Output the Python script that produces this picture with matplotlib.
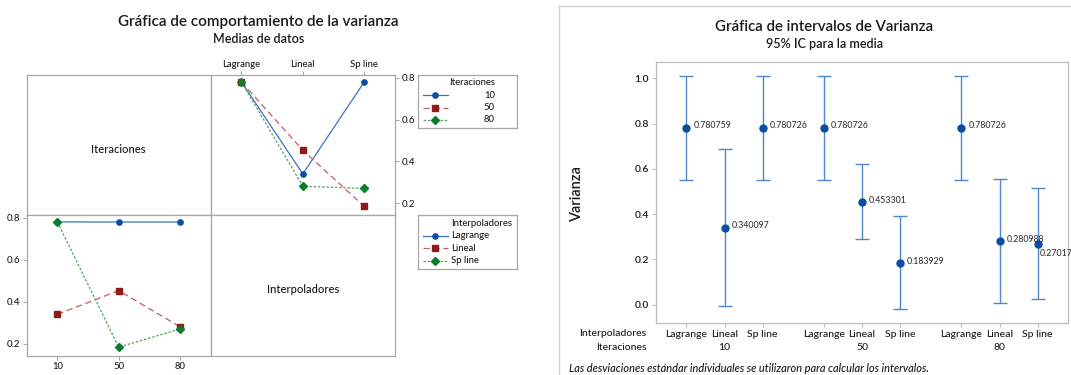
import matplotlib
matplotlib.use("Agg")
import matplotlib.pyplot as plt
import matplotlib.transforms as mtransforms
from matplotlib.lines import Line2D

W, H = 1071, 375
plt.rcParams['font.family'] = ['Lato', 'DejaVu Sans']
plt.rcParams['font.weight'] = 'medium'
TXT = '#1A1A1A'
GRID = '#A8A8A8'

# ---- data -------------------------------------------------------------
interpoladores = ["Lagrange", "Lineal", "Sp line"]
iteraciones = ["10", "50", "80"]

# mean variance per interpolator, one list per iteration count
media_10 = [0.780759, 0.340097, 0.780726]
media_50 = [0.780726, 0.453301, 0.183929]
media_80 = [0.780726, 0.280988, 0.270176]

# 95% confidence interval bounds for the mean
ic_inf_10 = [0.549, -0.004, 0.549]
ic_sup_10 = [1.011, 0.686, 1.011]
ic_inf_50 = [0.549, 0.289, -0.020]
ic_sup_50 = [1.011, 0.620, 0.392]
ic_inf_80 = [0.549, 0.0075, 0.025]
ic_sup_80 = [1.011, 0.555, 0.517]

medias = [media_10, media_50, media_80]
ic_inf = [ic_inf_10, ic_inf_50, ic_inf_80]
ic_sup = [ic_sup_10, ic_sup_50, ic_sup_80]

# ---- styles -----------------------------------------------------------
estilos = [
    dict(lc='#3C74C0', mc='#0B4EA2', ls='-', marker='o', ms=3.8),
    dict(lc='#C25F5F', mc='#8E1A1A', ls=(0, (5, 3)), marker='s', ms=4.6),
    dict(lc='#4FA660', mc='#0B7D2B', ls=(0, (2, 1.4)), marker='D', ms=4.2),
]

fig = plt.figure(figsize=(W / 100, H / 100), dpi=100)


def px_axes(l, t, r, b):
    return fig.add_axes([l / W, 1 - b / H, (r - l) / W, (b - t) / H])


def fx(x):
    return x / W


def fy(y):
    return 1 - y / H


def style_cell(ax):
    for s in ax.spines.values():
        s.set_color(GRID)
        s.set_linewidth(0.9)
    ax.tick_params(colors=GRID, labelcolor=TXT, length=3, width=0.8,
                   labelsize=6.8, pad=1.5)


def draw_series(ax, xs, ys, st):
    ax.plot(xs, ys, color=st['lc'], ls=st['ls'], lw=0.9,
            marker=st['marker'], mfc=st['mc'], mec=st['mc'], ms=st['ms'])


# ---- interaction matrix ------------------------------------------------
L, M, R = 26.7, 210.7, 395.0
T, C, B = 75.0, 215.0, 355.7
YLIM = (0.143, 0.814)
XLIM = (-0.5, 2.5)
pos = [0, 1, 2]

ax_tl = px_axes(L, T, M, C)
ax_tr = px_axes(M, T, R, C)
ax_bl = px_axes(L, C, M, B)
ax_br = px_axes(M, C, R, B)

for ax in (ax_tl, ax_tr, ax_bl, ax_br):
    style_cell(ax)
    ax.set_xlim(*XLIM)
    ax.set_ylim(*YLIM)

for ax in (ax_tl, ax_br):
    ax.set_xticks([])
    ax.set_yticks([])

ax_tl.text(0.5, 0.47, "Iteraciones", transform=ax_tl.transAxes,
           ha='center', va='center', fontsize=8, color=TXT)
ax_br.text(0.5, 0.47, "Interpoladores", transform=ax_br.transAxes,
           ha='center', va='center', fontsize=8, color=TXT)

# top right: one line per iteration count across interpolators
for i, it in enumerate(iteraciones):
    draw_series(ax_tr, pos, medias[i], estilos[i])
ax_tr.set_xticks(pos)
ax_tr.set_xticklabels(interpoladores)
ax_tr.xaxis.tick_top()
ax_tr.set_yticks([0.2, 0.4, 0.6, 0.8])
ax_tr.set_yticklabels(["0.2", "0.4", "0.6", "0.8"])
ax_tr.yaxis.tick_right()
ax_tr.tick_params(axis='y', labelsize=7)

# bottom left: one line per interpolator across iteration counts
for j, nombre in enumerate(interpoladores):
    draw_series(ax_bl, pos, [m[j] for m in medias], estilos[j])
ax_bl.set_xticks(pos)
ax_bl.set_xticklabels(iteraciones)
ax_bl.set_yticks([0.2, 0.4, 0.6, 0.8])
ax_bl.set_yticklabels(["0.2", "0.4", "0.6", "0.8"])
ax_bl.tick_params(axis='y', labelsize=7)


def legend_box(l, t, r, b, titulo, etiquetas, ha_lab, x_lab, rows_y, title_y):
    ax = px_axes(l, t, r, b)
    ax.set_xlim(l, r)
    ax.set_ylim(b, t)
    ax.set_xticks([])
    ax.set_yticks([])
    for s in ax.spines.values():
        s.set_color(GRID)
        s.set_linewidth(0.9)
    ax.patch.set_alpha(0)
    tx = x_lab if ha_lab == 'left' else 495.0
    ax.text(tx, title_y, titulo, ha=ha_lab, va='center', fontsize=6.8, color=TXT)
    for k, lab in enumerate(etiquetas):
        st = estilos[k]
        y = rows_y[k]
        ax.plot([423.0, 447.7], [y, y], color=st['lc'], ls=st['ls'], lw=0.9)
        ax.plot([435.3], [y], marker=st['marker'], color=st['mc'], ms=st['ms'])
        ax.text(tx, y, lab, ha=ha_lab, va='center', fontsize=6.8, color=TXT)


legend_box(417.5, 75.0, 516.5, 128.3, "Iteraciones", iteraciones, 'right', 495.0,
           [95.0, 107.7, 120.0], 82.7)
legend_box(418.3, 215.0, 516.7, 269.3, "Interpoladores", interpoladores, 'left', 451.0,
           [236.0, 248.3, 260.7], 223.3)

fig.text(fx(258.6), fy(21.7), "Gráfica de comportamiento de la varianza",
         ha='center', va='center', fontsize=11, fontweight='semibold', color=TXT)
fig.text(fx(258.6), fy(39.3), "Medias de datos",
         ha='center', va='center', fontsize=9, fontweight='semibold', color=TXT)

# ---- interval plot -----------------------------------------------------
fig.add_artist(Line2D([fx(559), fx(559)], [fy(6.3), 0], color='#D2D2D2', lw=1.0))
fig.add_artist(Line2D([fx(559), 1], [fy(6.3), fy(6.3)], color='#D2D2D2', lw=1.0))

ax = px_axes(655.8, 61.7, 1068.3, 323.3)
for s in ax.spines.values():
    s.set_color('#BDBDBD')
    s.set_linewidth(0.9)

GAP = 3.6
xpos, xlab, yval, ylo, yhi = [], [], [], [], []
for i, it in enumerate(iteraciones):
    for j, nombre in enumerate(interpoladores):
        xpos.append(i * GAP + j)
        xlab.append(nombre)
        yval.append(medias[i][j])
        ylo.append(ic_inf[i][j])
        yhi.append(ic_sup[i][j])

err = [[v - lo for v, lo in zip(yval, ylo)], [hi - v for v, hi in zip(yval, yhi)]]
ax.errorbar(xpos, yval, yerr=err, fmt='none', ecolor='#5186C8', elinewidth=1.0,
            capsize=4.8, capthick=1.0)
ax.plot(xpos, yval, 'o', color='#0B4EA2', ms=5)

for k, (x, v) in enumerate(zip(xpos, yval)):
    if k == len(xpos) - 1:
        off = (2, -10)
    else:
        off = (7, 2)
    ax.annotate(f"{v:.6f}", (x, v), xytext=off, textcoords='offset pixels',
                ha='left', va='center', fontsize=6.3, color='#333333',
                annotation_clip=False)

ax.set_xlim(-0.8, 2 * GAP + 2.8)
ax.set_ylim(-0.082, 1.073)
ax.set_yticks([0.0, 0.2, 0.4, 0.6, 0.8, 1.0])
ax.set_yticklabels([f"{t:.1f}" for t in [0.0, 0.2, 0.4, 0.6, 0.8, 1.0]],
                   fontweight='semibold')
ax.set_xticks(xpos)
ax.set_xticklabels(xlab)
ax.tick_params(axis='y', colors='#BDBDBD', labelcolor=TXT, length=3, width=0.8,
               labelsize=7.5, pad=2)
ax.tick_params(axis='x', colors='#BDBDBD', labelcolor=TXT, length=3, width=0.8,
               labelsize=7.5, pad=2)

tr = mtransforms.blended_transform_factory(ax.transData, fig.transFigure)
for i, it in enumerate(iteraciones):
    ax.text(i * GAP + 1, fy(347.7), it, transform=tr, ha='center', va='center',
            fontsize=7.5, color=TXT)

fig.text(fx(646.7), fy(333.3), "Interpoladores", ha='right', va='center',
         fontsize=7.5, color=TXT)
fig.text(fx(646.7), fy(347.7), "Iteraciones", ha='right', va='center',
         fontsize=7.5, color=TXT)
fig.text(fx(576.7), fy(194), "Varianza", rotation=90, ha='center', va='center',
         fontsize=10.5, fontweight='semibold', color=TXT)
fig.text(fx(568.8), fy(369), "Las desviaciones estándar individuales se utilizaron "
         "para calcular los intervalos.", ha='left', va='center', fontsize=7.9,
         style='italic', color=TXT)

fig.text(fx(824.3), fy(27.3), "Gráfica de intervalos de Varianza",
         ha='center', va='center', fontsize=10.8, fontweight='semibold', color=TXT)
fig.text(fx(824.3), fy(44.3), "95% IC para la media",
         ha='center', va='center', fontsize=9, fontweight='semibold', color=TXT)

fig.savefig("out.png", dpi=100)
